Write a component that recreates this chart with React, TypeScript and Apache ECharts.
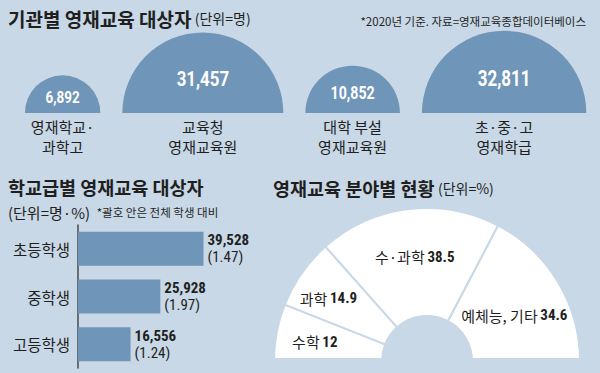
import React, { useEffect, useRef } from "react";
import * as echarts from "echarts";

// ---- data ----
const institutions = [
  ["영재학교·", "과학고"],
  ["교육청", "영재교육원"],
  ["대학 부설", "영재교육원"],
  ["초·중·고", "영재학급"],
];
const institutionValues = [6892, 31457, 10852, 32811];

const schoolLevels = ["초등학생", "중학생", "고등학생"];
const schoolValues = [39528, 25928, 16556];
const schoolShares = ["1.47", "1.97", "1.24"];

const fields = ["수학", "과학", "수·과학", "예체능, 기타"];
const fieldShares = [12, 14.9, 38.5, 34.6];

// ---- style ----
const BG = "#c8d8e6";
const BLUE = "#6f95b9";
const INK = "#1f1f1f";
const KR = "'Noto Sans CJK KR', 'Noto Sans', sans-serif";
const NUM = "'Roboto Condensed', 'Liberation Sans Narrow', Roboto, sans-serif";
const pieLabelOffsets = [[-12, 0], [-15, -4], [0, -3], [0, 7]];

const fmt = (v: number) => v.toLocaleString("en-US");

// semicircles packed left-to-right (area ∝ value), sizes in sqrt units
const rUnits = institutionValues.map((v) => Math.sqrt(v));
const START = 55;
const GAP = 48.5;
const semiData: number[][] = [];
{
  let cursor = START;
  rUnits.forEach((r, i) => {
    semiData.push([cursor + r, r, institutionValues[i]]);
    cursor += 2 * r + GAP;
  });
}

export default function App() {
  const ref = useRef<HTMLDivElement>(null);
  useEffect(() => {
    if (!ref.current) return;
    const chart = echarts.init(ref.current, null, { renderer: "svg" });
    const option: any = {
      animation: false,
      backgroundColor: BG,
      textStyle: { fontFamily: KR },
      grid: [
        { left: 0, width: 600, top: 0, height: 113 },
        { left: 78, width: 127, top: 225, height: 143 },
      ],
      xAxis: [
        { gridIndex: 0, type: "value", min: 0, max: 1322, show: false },
        { gridIndex: 1, type: "value", min: 0, max: 40000, show: false },
      ],
      yAxis: [
        { gridIndex: 0, type: "value", min: 0, max: 1, show: false },
        {
          gridIndex: 1,
          type: "category",
          inverse: true,
          data: schoolLevels,
          axisLine: { show: true, lineStyle: { color: "#4a4a4a", width: 1.5 } },
          axisTick: { show: false },
          axisLabel: { fontSize: 15.5, color: INK, fontFamily: KR, margin: 8 },
        },
      ],
      graphic: [
        {
          type: "text",
          x: 8,
          y: 18,
          style: {
            text: "{t|기관별 영재교육 대상자} {u|(단위=명)}",
            verticalAlign: "middle",
            rich: {
              t: { fontSize: 19, fontWeight: "bold", fill: INK, fontFamily: KR },
              u: { fontSize: 14, fill: INK, fontFamily: KR },
            },
          },
        },
        {
          type: "text",
          x: 586,
          y: 21,
          style: {
            text: "*2020년 기준. 자료=영재교육종합데이터베이스",
            align: "right",
            verticalAlign: "middle",
            fontSize: 11.5,
            fill: INK,
            fontFamily: KR,
          },
        },
        {
          type: "text",
          x: 8,
          y: 187,
          style: {
            text: "학교급별 영재교육 대상자",
            verticalAlign: "middle",
            fontSize: 18.5,
            fontWeight: "bold",
            fill: INK,
            fontFamily: KR,
          },
        },
        {
          type: "text",
          x: 8,
          y: 212,
          style: {
            text: "{a|(단위=명·%)}  {b|*괄호 안은 전체 학생 대비}",
            verticalAlign: "middle",
            rich: {
              a: { fontSize: 15, fill: INK, fontFamily: KR },
              b: { fontSize: 11.5, fill: INK, fontFamily: KR },
            },
          },
        },
        {
          type: "text",
          x: 273,
          y: 188,
          style: {
            text: "{t|영재교육 분야별 현황} {u|(단위=%)}",
            verticalAlign: "middle",
            rich: {
              t: { fontSize: 18.5, fontWeight: "bold", fill: INK, fontFamily: KR },
              u: { fontSize: 14, fill: INK, fontFamily: KR },
            },
          },
        },
        {
          type: "rect",
          z: 100,
          shape: { x: 265, y: 358, width: 335, height: 15 },
          style: { fill: BG },
        },
      ],
      series: [
        {
          type: "custom",
          xAxisIndex: 0,
          yAxisIndex: 0,
          data: semiData,
          renderItem: (params: any, api: any) => {
            const cx = api.value(0);
            const r = api.value(1);
            const v = api.value(2);
            const p = api.coord([cx, 0]);
            const rp = api.size([r, 0])[0];
            const lines = institutions[params.dataIndex];
            return {
              type: "group",
              children: [
                {
                  type: "sector",
                  shape: { cx: p[0], cy: p[1], r: rp, r0: 0, startAngle: Math.PI, endAngle: Math.PI * 2, clockwise: true },
                  style: { fill: BLUE },
                },
                {
                  type: "text",
                  x: p[0],
                  y: p[1] - rp * 0.42,
                  scaleX: 0.8,
                  style: {
                    text: fmt(v),
                    align: "center",
                    verticalAlign: "middle",
                    fill: "#ffffff",
                    fontSize: 13 + rp * 0.1,
                    fontWeight: "bold",
                    fontFamily: "Roboto, sans-serif",
                  },
                },
                {
                  type: "text",
                  x: p[0],
                  y: p[1] + 13,
                  style: {
                    text: lines[0],
                    align: "center",
                    verticalAlign: "middle",
                    fontSize: 15,
                    fill: INK,
                    fontFamily: KR,
                  },
                },
                {
                  type: "text",
                  x: p[0],
                  y: p[1] + 33,
                  style: {
                    text: lines[1],
                    align: "center",
                    verticalAlign: "middle",
                    fontSize: 15,
                    fill: INK,
                    fontFamily: KR,
                  },
                },
              ],
            };
          },
        },
        {
          type: "bar",
          xAxisIndex: 1,
          yAxisIndex: 1,
          data: schoolValues,
          barWidth: 34,
          itemStyle: { color: BLUE },
          label: {
            show: true,
            position: "right",
            distance: 4,
            formatter: (p: any) => `{a|${fmt(p.value)}}\n{b|(${schoolShares[p.dataIndex]})}`,
            rich: {
              a: { fontSize: 15, fontWeight: "bold", color: INK, fontFamily: NUM, lineHeight: 17 },
              b: { fontSize: 15, color: INK, fontFamily: NUM, lineHeight: 17 },
            },
          },
        },
        {
          type: "pie",
          center: [427, 361],
          radius: [45, 153],
          startAngle: 180,
          endAngle: 0,
          clockwise: true,
          silent: true,
          data: fields.map((f, i) => ({
            name: f,
            value: fieldShares[i],
            label: { offset: pieLabelOffsets[i] },
          })),
          itemStyle: { color: "#ffffff", borderColor: BG, borderWidth: 2 },
          labelLine: { show: false },
          label: {
            show: true,
            position: "inside",
            formatter: "{n|{b}} {v|{c}}",
            rich: {
              n: { fontSize: 15, color: INK, fontFamily: KR },
              v: { fontSize: 15, fontWeight: "bold", color: INK, fontFamily: NUM },
            },
          },
        },
      ],
    };
    chart.setOption(option);
    return () => chart.dispose();
  }, []);
  return (
    <div
      ref={ref}
      style={{ position: "fixed", left: 0, top: 0, width: 600, height: 373, background: BG }}
    />
  );
}
